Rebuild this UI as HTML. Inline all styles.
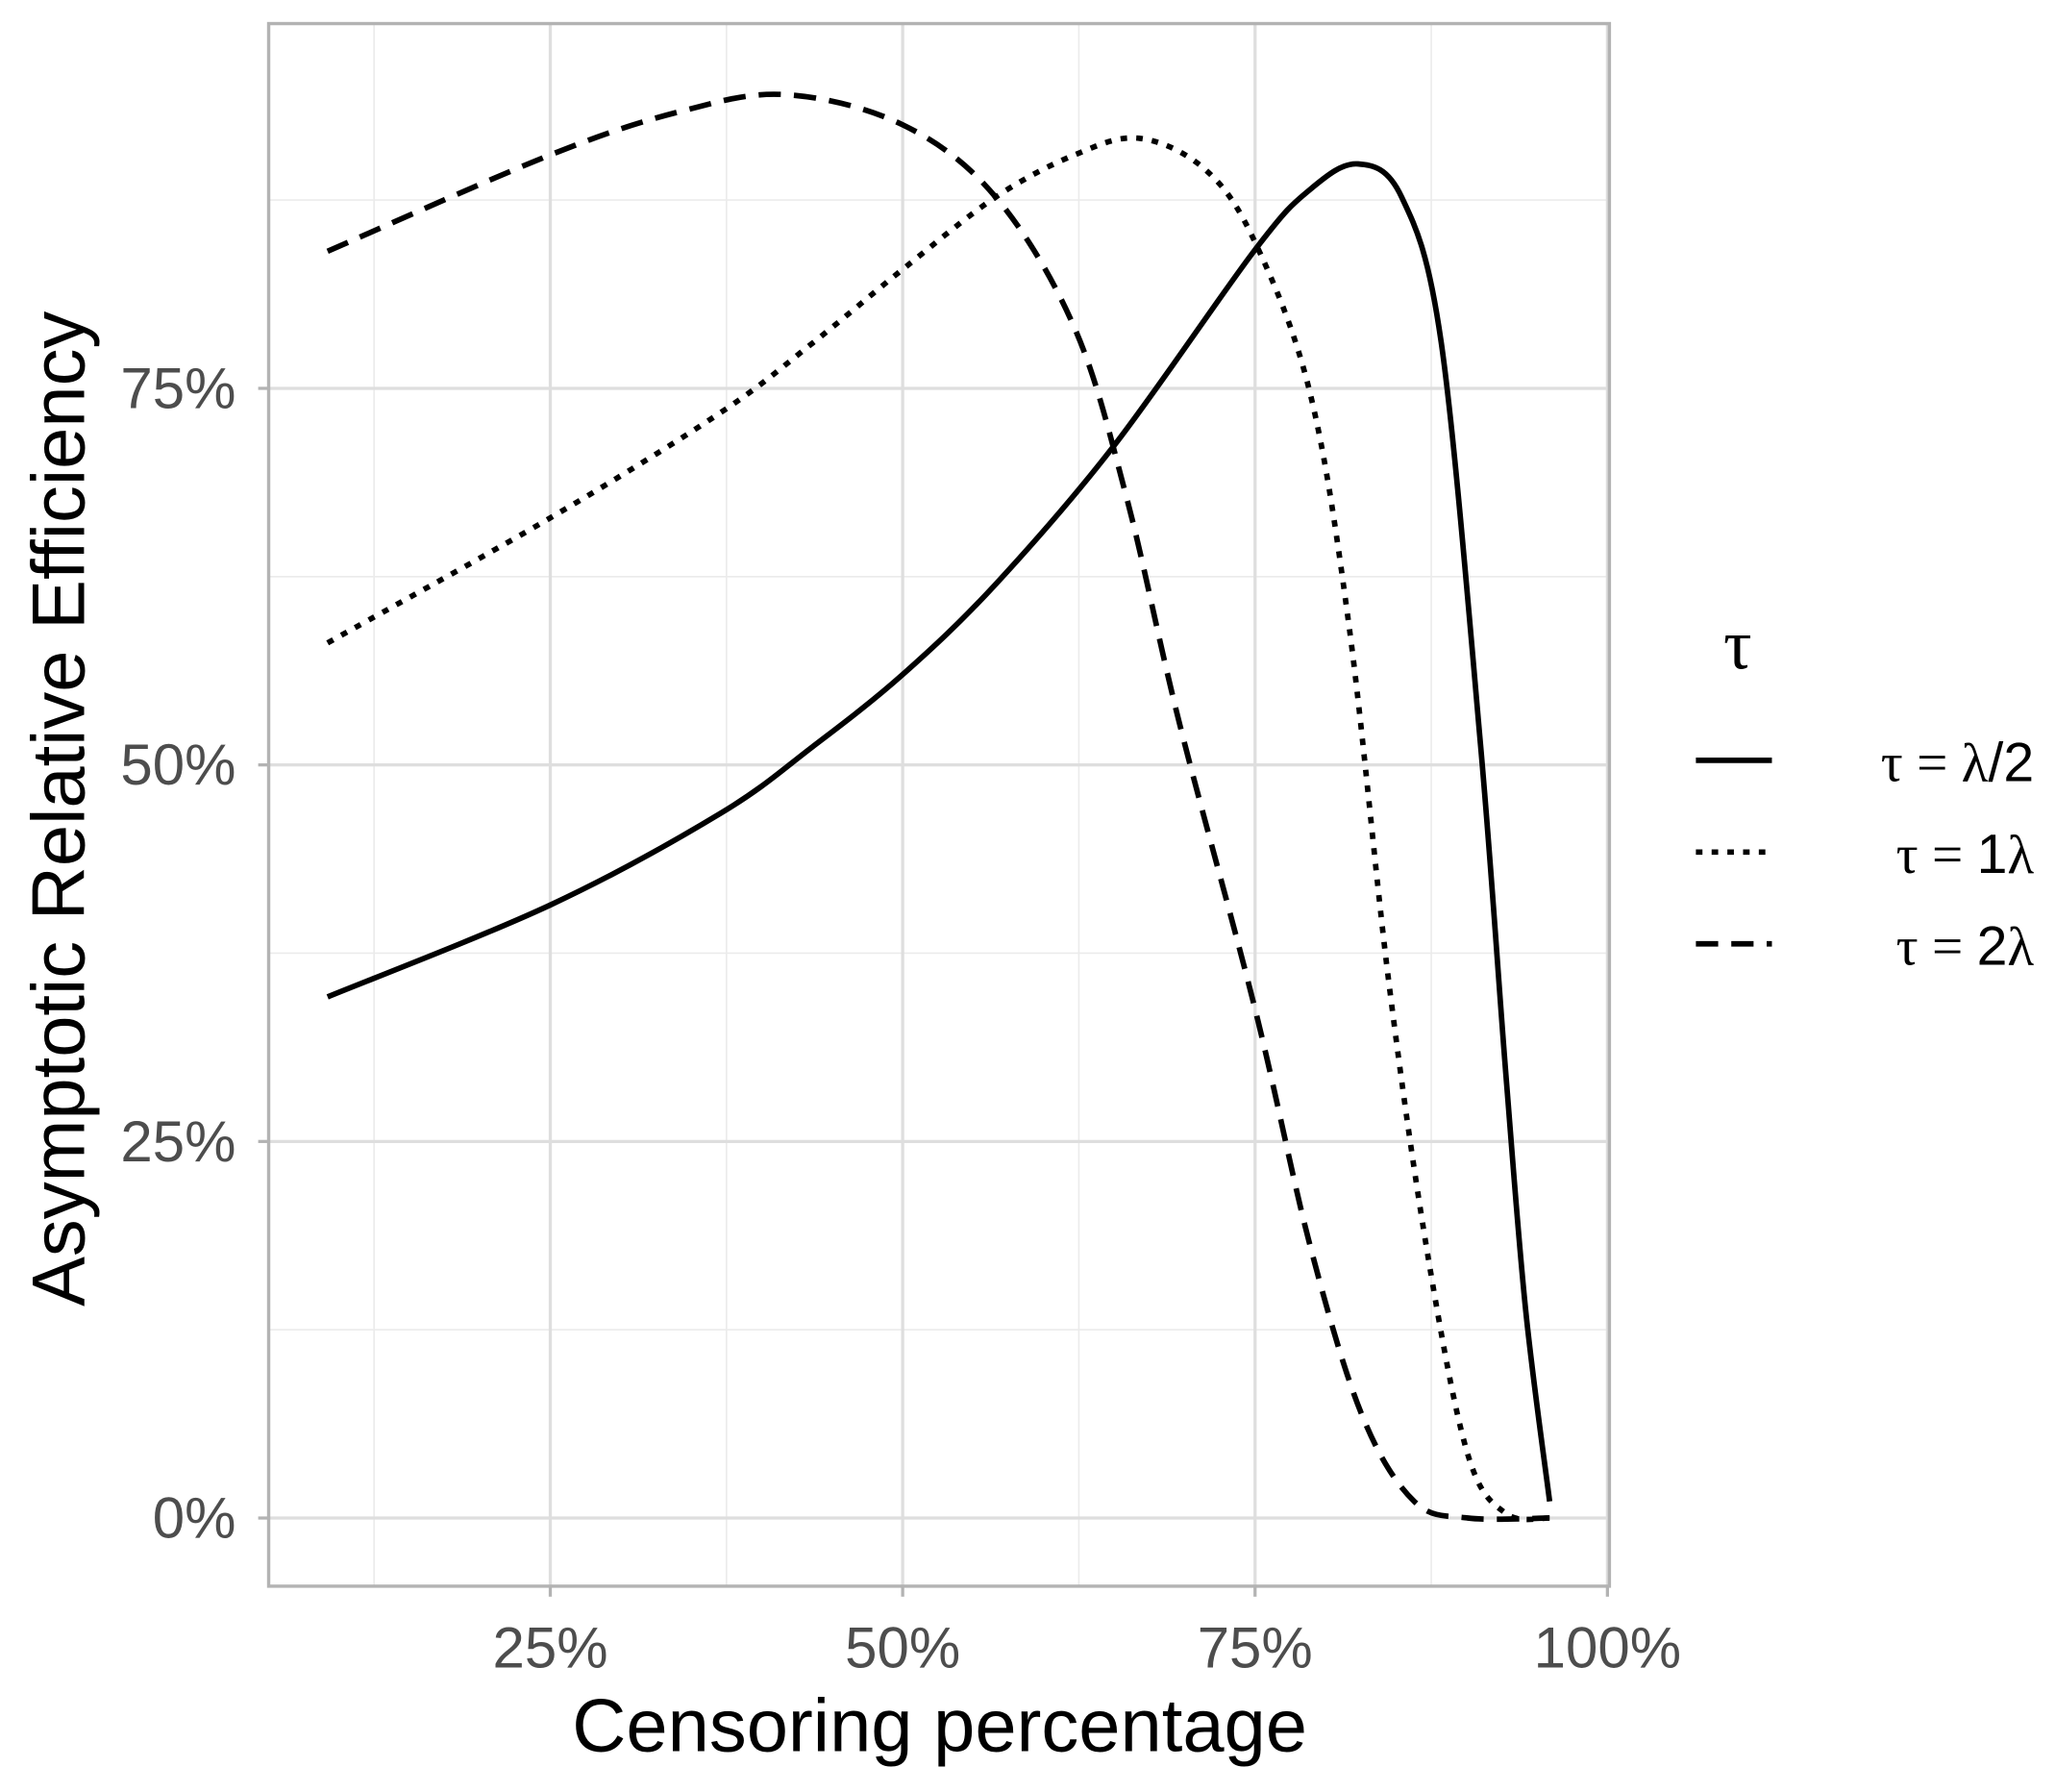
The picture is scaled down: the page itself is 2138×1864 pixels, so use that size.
<!DOCTYPE html>
<html><head><meta charset="utf-8"><style>html,body{margin:0;padding:0;background:#fff}svg{display:block}</style></head>
<body>
<svg width="2138" height="1864" viewBox="0 0 1568 1367" preserveAspectRatio="none" xmlns="http://www.w3.org/2000/svg" font-family="'Liberation Sans', sans-serif">
<g id="grid"></g>
<g id="series"></g>
<rect x="205" y="18" width="1023" height="1192" fill="none" stroke="#b3b3b3" stroke-width="2.5"/>
<g id="ticks"></g>
<text x="717" y="1336" font-size="57" text-anchor="middle" fill="#000">Censoring percentage</text>
<text transform="translate(64,617) rotate(-90)" font-size="57" text-anchor="middle" fill="#000">Asymptotic Relative Efficiency</text>
<g>
<text x="1315" y="510" font-size="54" font-family="'Liberation Serif', serif">τ</text>
<line x1="1294" y1="580" x2="1352" y2="580" stroke="#000" stroke-width="4.2"/>
<line x1="1294" y1="650" x2="1352" y2="650" stroke="#000" stroke-width="4.2" stroke-dasharray="5,7"/>
<line x1="1294" y1="720" x2="1352" y2="720" stroke="#000" stroke-width="4.2" stroke-dasharray="17,10"/>
<text x="1552" y="596" font-size="42" text-anchor="end"><tspan font-family="'Liberation Serif', serif">τ = λ</tspan>/2</text>
<text x="1552" y="666" font-size="42" text-anchor="end"><tspan font-family="'Liberation Serif', serif">τ = </tspan>1<tspan font-family="'Liberation Serif', serif">λ</tspan></text>
<text x="1552" y="736" font-size="42" text-anchor="end"><tspan font-family="'Liberation Serif', serif">τ = </tspan>2<tspan font-family="'Liberation Serif', serif">λ</tspan></text>
</g>
</svg>
<script>
const xTicks=[25,50,75,100];
const yTicks=[0,25,50,75];
const solidX=[9.2,25,37.1,43.6,50,56.6,65,75,78.9,82.3,85.4,88.2,91,92.8,94.2,95.9];
const solidY=[34.6,40.7,46.8,51.2,56,62,71.2,84.2,88.2,89.9,87.7,78.1,51.3,29.4,13.8,1.1];
const dotX=[9.2,25,37.1,43.6,50,56.6,62.2,66.8,71.5,75,78.9,81.7,84.5,87.3,90.1,92.8,95.9];
const dotY=[58.1,66.4,73.4,78,82.9,87.7,90.5,91.6,89.5,84.7,74.7,59,35.5,17.2,4.2,0.3,0];
const dashX=[9.2,25,34.3,41.7,50,56.6,62.2,65.9,69.6,75,78.9,82.6,86.3,90.1,95.9];
const dashY=[84.1,90.5,93.4,94.5,92.5,87.7,79,67.7,52.9,33.8,18.1,6.8,1.1,0,0];
const NS="http://www.w3.org/2000/svg";
const sx=v=>151+v*10.755, sy=v=>1158-v*11.49;
function mk(tag,attrs,parent){const e=document.createElementNS(NS,tag);for(const k in attrs)e.setAttribute(k,attrs[k]);parent.appendChild(e);return e;}
const grid=document.getElementById('grid'), ticks=document.getElementById('ticks'), series=document.getElementById('series');
[12.5,37.5,62.5,87.5].forEach(v=>{const l=mk('line',{x1:sx(v),x2:sx(v),y1:18,y2:1210,stroke:'#ebebeb','stroke-width':1.2},grid);

});
[12.5,37.5,62.5,87.5].forEach(v=>{const l=mk('line',{y1:sy(v),y2:sy(v),x1:205,x2:1228,stroke:'#ebebeb','stroke-width':1.2},grid);

});
xTicks.forEach(v=>{const l=mk('line',{x1:sx(v),x2:sx(v),y1:18,y2:1210,stroke:'#dedede','stroke-width':2.4},grid);


const t=mk('line',{x1:sx(v),x2:sx(v),y1:1210,y2:1218,stroke:'#b3b3b3','stroke-width':2.4},ticks);


const tx=mk('text',{x:sx(v),y:1272,'font-size':44,'text-anchor':'middle',fill:'#4d4d4d'},ticks);tx.textContent=v+'%';

});
yTicks.forEach(v=>{const l=mk('line',{y1:sy(v),y2:sy(v),x1:205,x2:1228,stroke:'#dedede','stroke-width':2.4},grid);


const t=mk('line',{y1:sy(v),y2:sy(v),x1:197,x2:205,stroke:'#b3b3b3','stroke-width':2.4},ticks);


const tx=mk('text',{x:180,y:sy(v)+15,'font-size':44,'text-anchor':'end',fill:'#4d4d4d'},ticks);tx.textContent=v+'%';

});
function path(xs,ys){const p=xs.map((x,i)=>[sx(x),sy(ys[i])]);let d='M'+p[0][0]+','+p[0][1];
for(let i=0;i<p.length-1;i++){const p0=p[Math.max(0,i-1)],p1=p[i],p2=p[i+1],p3=p[Math.min(p.length-1,i+2)];
const c1=[p1[0]+(p2[0]-p0[0])/6,p1[1]+(p2[1]-p0[1])/6],c2=[p2[0]-(p3[0]-p1[0])/6,p2[1]-(p3[1]-p1[1])/6];
d+=` C${c1[0]},${c1[1]} ${c2[0]},${c2[1]} ${p2[0]},${p2[1]}`;}return d;}
const s1=mk('path',{d:path(solidX,solidY),fill:'none',stroke:'#000','stroke-width':4.2},series);


const s2=mk('path',{d:path(dotX,dotY),fill:'none',stroke:'#000','stroke-width':4.2,'stroke-dasharray':'5,7'},series);


const s3=mk('path',{d:path(dashX,dashY),fill:'none',stroke:'#000','stroke-width':4.2,'stroke-dasharray':'17,10'},series);


</script>
</body></html>
